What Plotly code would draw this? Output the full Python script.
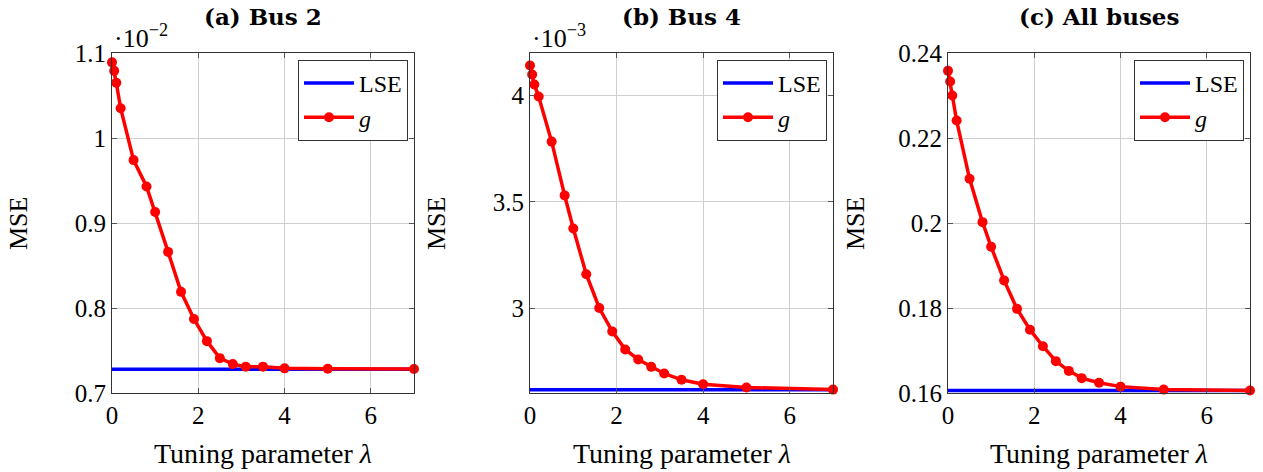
import plotly.graph_objects as go

# ---- data ----
lam = [0, 0.05, 0.1, 0.2, 0.5, 0.8, 1.0, 1.3, 1.6, 1.9, 2.2, 2.5, 2.8, 3.1, 3.5, 4, 5, 7]
lam_lse = [0, 7]

# (a) Bus 2, values in units of 1e-2
g_bus2 = [1.089, 1.079, 1.065, 1.035, 0.974, 0.943, 0.913, 0.866, 0.819, 0.787,
          0.761, 0.741, 0.734, 0.731, 0.731, 0.729, 0.7286, 0.7282]
lse_bus2 = [0.7278, 0.7278]

# (b) Bus 4, values in units of 1e-3
g_bus4 = [4.141, 4.099, 4.052, 3.995, 3.783, 3.530, 3.374, 3.159, 3.000, 2.890,
          2.805, 2.758, 2.723, 2.692, 2.662, 2.641, 2.626, 2.616]
lse_bus4 = [2.615, 2.615]

# (c) All buses
g_all = [0.2358, 0.2333, 0.2300, 0.2241, 0.2104, 0.2002, 0.1944, 0.1865, 0.1798,
         0.1749, 0.1710, 0.1675, 0.1652, 0.1635, 0.1624, 0.1615, 0.1608, 0.1606]
lse_all = [0.1606, 0.1606]

titles = ["(a) Bus 2", "(b) Bus 4", "(c) All buses"]
multipliers = ["·10<sup>−2</sup>", "·10<sup>−3</sup>", None]
y_ranges = [[0.7, 1.1], [2.6, 4.2], [0.16, 0.24]]
y_ticks = [[0.7, 0.8, 0.9, 1.0, 1.1], [3.0, 3.5, 4.0], [0.16, 0.18, 0.2, 0.22, 0.24]]
x_ticks = [0, 2, 4, 6]

g_series = [g_bus2, g_bus4, g_all]
lse_series = [lse_bus2, lse_bus4, lse_all]

W, H = 1263, 472
OFF = 8  # page body margin in the browser
x_px = [(112, 414), (530, 833), (948, 1250)]
y_px = (53, 393)
mse_x = [18, 436, 855]


def px(x):
    return (x - OFF) / W


def py(y):
    return 1 - (y - OFF) / H


FONT = "Liberation Serif"
FONT_T = "DejaVu Serif"
fig = go.Figure()

annotations = []
for i in range(3):
    sfx = "" if i == 0 else str(i + 1)
    xa, ya = "x" + sfx, "y" + sfx
    leg = "legend" if i == 0 else "legend" + str(i + 1)
    fig.add_trace(go.Scatter(x=lam_lse, y=lse_series[i], mode="lines", name="LSE",
                             line=dict(color="#0000ff", width=3.5),
                             xaxis=xa, yaxis=ya, legend=leg))
    fig.add_trace(go.Scatter(x=lam, y=g_series[i], mode="lines+markers", name="<i>g</i>",
                             line=dict(color="#ff0000", width=3.5),
                             marker=dict(color="#ff0000", size=10, symbol="circle"),
                             xaxis=xa, yaxis=ya, legend=leg, cliponaxis=False))
    axcommon = dict(showline=True, mirror="ticks", linecolor="#333333", linewidth=1,
                    ticks="inside", ticklen=5, tickcolor="#555555",
                    showgrid=True, gridcolor="#cfcfcf", gridwidth=1, zeroline=False,
                    automargin=False,
                    tickfont=dict(family=FONT, size=25, color="black"))
    fig.update_layout(**{
        "xaxis" + sfx: dict(domain=[px(x_px[i][0]), px(x_px[i][1])], range=[0, 7],
                            tickvals=x_ticks, anchor=ya, **axcommon),
        "yaxis" + sfx: dict(domain=[py(y_px[1]), py(y_px[0])], range=y_ranges[i],
                            tickvals=y_ticks[i], anchor=xa, **axcommon),
        leg: dict(x=px(x_px[i][1] - 6), y=py(60), xanchor="right", yanchor="top",
                  bgcolor="white", bordercolor="#333333", borderwidth=1,
                  font=dict(family=FONT, size=24, color="black"),
                  tracegroupgap=0, itemwidth=50),
    })
    cx = px((x_px[i][0] + x_px[i][1]) / 2)
    annotations.append(dict(text="<b>" + titles[i] + "</b>", x=cx, y=py(17),
                            xref="paper", yref="paper", showarrow=False,
                            xanchor="center", yanchor="middle",
                            font=dict(family=FONT_T, size=23, color="black")))
    annotations.append(dict(text="Tuning parameter <i>λ</i>", x=cx, y=py(453),
                            xref="paper", yref="paper", showarrow=False,
                            xanchor="center", yanchor="middle",
                            font=dict(family=FONT, size=28, color="black")))
    annotations.append(dict(text="MSE", x=px(mse_x[i]), y=py(224),
                            xref="paper", yref="paper", showarrow=False, textangle=-90,
                            xanchor="center", yanchor="middle",
                            font=dict(family=FONT, size=26, color="black")))
    if multipliers[i]:
        annotations.append(dict(text=multipliers[i], x=px(x_px[i][0]), y=py(37),
                                xref="paper", yref="paper", showarrow=False,
                                xanchor="left", yanchor="middle",
                                font=dict(family=FONT, size=26, color="black")))

fig.update_layout(width=W, height=H,
                  margin=dict(l=0, r=0, t=0, b=0, pad=0, autoexpand=False),
                  paper_bgcolor="white", plot_bgcolor="white",
                  annotations=annotations, showlegend=True,
                  font=dict(family=FONT, color="black"))
fig.write_html("out.html")
